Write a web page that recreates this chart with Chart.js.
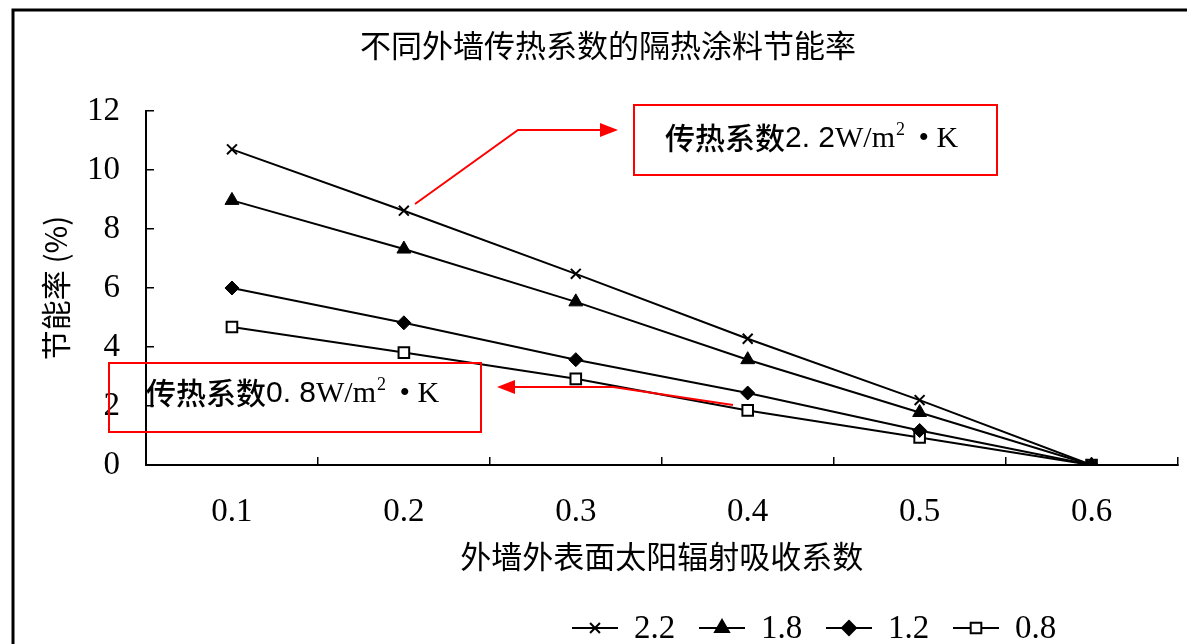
<!DOCTYPE html>
<html>
<head>
<meta charset="utf-8">
<script src="https://cdn.jsdelivr.net/npm/chart.js@4.4.1/dist/chart.umd.min.js"></script>
<style>
  html, body { margin: 0; padding: 0; background: #fff; }
  #wrap { width: 1187px; height: 644px; }
</style>
</head>
<body>
<div id="wrap"><canvas id="myChart" width="1187" height="644"></canvas></div>
<script>
// data
const categories = ['0.1', '0.2', '0.3', '0.4', '0.5', '0.6'];
const seriesNames = ['2.2', '1.8', '1.2', '0.8'];
const k22 = [10.7, 8.62, 6.48, 4.28, 2.2, 0];
const k18 = [8.97, 7.32, 5.53, 3.57, 1.78, 0];
const k12 = [6.0, 4.82, 3.57, 2.44, 1.17, 0];
const k08 = [4.68, 3.81, 2.92, 1.85, 0.93, 0];
const yMin = 0, yMax = 12, yStep = 2;

const chartTitle = '不同外墙传热系数的隔热涂料节能率';
const xTitle = '外墙外表面太阳辐射吸收系数';
const yTitle = '节能率 (%)';
const note1 = '2.2';
const note2 = '0.8';

const serif = "'Liberation Serif', 'Noto Sans CJK SC', serif";
const cjk = "'Noto Sans CJK SC', sans-serif";

// title, legend, frame and the red call-outs
const extras = {
    id: 'extras',
    afterDraw(chart) {
        const c = chart.ctx;
        c.save();
        // frame
        c.strokeStyle = '#000';
        c.lineWidth = 3;
        c.strokeRect(13, 10, 1200, 700);

        // title
        c.fillStyle = '#000';
        c.font = '31px ' + cjk;
        c.textAlign = 'center';
        c.textBaseline = 'middle';
        c.fillText(chartTitle, 608, 45);

        // legend
        let lx = 572;
        const ly = 628;
        chart.data.datasets.forEach(function(ds) {
            c.strokeStyle = '#000';
            c.lineWidth = 2;
            c.beginPath();
            c.moveTo(lx, ly);
            c.lineTo(lx + 46, ly);
            c.stroke();
            c.fillStyle = ds.pointBackgroundColor;
            Chart.helpers.drawPoint(c, {
                pointStyle: ds.pointStyle,
                radius: ds.pointRadius,
                rotation: 0,
                borderWidth: ds.pointBorderWidth
            }, lx + 23, ly);
            c.fillStyle = '#000';
            c.font = '33px ' + serif;
            c.textAlign = 'left';
            c.fillText(ds.label, lx + 62, ly + 1);
            lx += 127;
        });

        // red boxes and arrows
        c.strokeStyle = '#f00';
        c.fillStyle = '#f00';
        c.lineWidth = 2;
        c.strokeRect(634, 105, 363, 70);
        c.strokeRect(109, 363, 372, 69);

        c.beginPath();
        c.moveTo(415, 204);
        c.lineTo(518, 130);
        c.lineTo(600, 130);
        c.stroke();
        c.beginPath();
        c.moveTo(618, 130);
        c.lineTo(600, 123);
        c.lineTo(600, 137);
        c.closePath();
        c.fill();

        c.beginPath();
        c.moveTo(733, 405);
        c.lineTo(613, 387);
        c.lineTo(514, 387);
        c.stroke();
        c.beginPath();
        c.moveTo(497, 387);
        c.lineTo(515, 380);
        c.lineTo(515, 394);
        c.closePath();
        c.fill();

        drawNote(c, note1, 665, 138);
        drawNote(c, note2, 146, 393);
        c.restore();
    }
};

function drawNote(c, value, x, y) {
    c.fillStyle = '#000';
    c.textAlign = 'left';
    c.textBaseline = 'middle';
    c.font = '500 30px ' + cjk;
    c.fillText('传热系数', x, y);
    x += c.measureText('传热系数').width;
    c.font = '30px "Liberation Sans", sans-serif';
    c.fillText(value.replace('.', '. '), x, y + 1);
    x += c.measureText(value.replace('.', '. ')).width;
    c.font = '30px ' + serif;
    c.fillText('W/m', x, y + 1);
    x += c.measureText('W/m').width;
    c.font = '18px ' + serif;
    c.fillText('2', x + 1, y - 8);
    x += 16;
    c.font = '30px ' + serif;
    c.fillText(' \u2022 K', x, y + 1);
}

const ctx = document.getElementById('myChart').getContext('2d');

const myChart = new Chart(ctx, {
    type: 'line',
    data: {
        labels: categories,
        datasets: [{
            label: seriesNames[0],
            data: k22,
            borderColor: '#000',
            borderWidth: 2,
            pointStyle: 'crossRot',
            pointRadius: 7,
            pointBorderWidth: 2,
            pointBorderColor: '#000',
            pointBackgroundColor: '#000'
        },
        {
            label: seriesNames[1],
            data: k18,
            borderColor: '#000',
            borderWidth: 2,
            pointStyle: 'triangle',
            pointRadius: 8,
            pointBorderWidth: 1,
            pointBorderColor: '#000',
            pointBackgroundColor: '#000'
        },
        {
            label: seriesNames[2],
            data: k12,
            borderColor: '#000',
            borderWidth: 2,
            pointStyle: 'rectRot',
            pointRadius: 7,
            pointBorderWidth: 1,
            pointBorderColor: '#000',
            pointBackgroundColor: '#000'
        },
        {
            label: seriesNames[3],
            data: k08,
            borderColor: '#000',
            borderWidth: 2,
            pointStyle: 'rect',
            pointRadius: 7.5,
            pointBorderWidth: 2,
            pointBorderColor: '#000',
            pointBackgroundColor: '#fff'
        }]
    },
    options: {
        responsive: false,
        animation: false,
        layout: { padding: { left: 0, right: 2, top: 111, bottom: 0 } },
        plugins: {
            legend: { display: false },
            title: { display: false },
            tooltip: { enabled: false }
        },
        scales: {
            x: {
                offset: true,
                grid: { display: true, drawOnChartArea: false, offset: true, color: '#000', lineWidth: 1.5, tickLength: -8 },
                border: { display: true, color: '#000', width: 2 },
                ticks: { color: '#000', padding: 36, font: { family: serif, size: 33, lineHeight: 1.2 } },
                title: { display: true, text: xTitle, color: '#000', padding: { top: 0, bottom: 69 }, font: { family: cjk, size: 31, lineHeight: 1.2 } },
                afterFit(scale) { scale.height = 644 - 465; }
            },
            y: {
                min: yMin,
                max: yMax,
                grid: { display: true, drawOnChartArea: false, color: '#000', lineWidth: 1.5, tickLength: -8 },
                border: { display: true, color: '#000', width: 2 },
                ticks: { stepSize: yStep, color: '#000', padding: 34, font: { family: serif, size: 33, lineHeight: 1.2 } },
                title: { display: true, text: yTitle, color: '#000', padding: { top: 38, bottom: 0 }, font: { family: cjk, size: 30, lineHeight: 1.2 } },
                afterFit(scale) { scale.width = 146; }
            }
        }
    },
    plugins: [extras]
});
</script>
</body>
</html>
